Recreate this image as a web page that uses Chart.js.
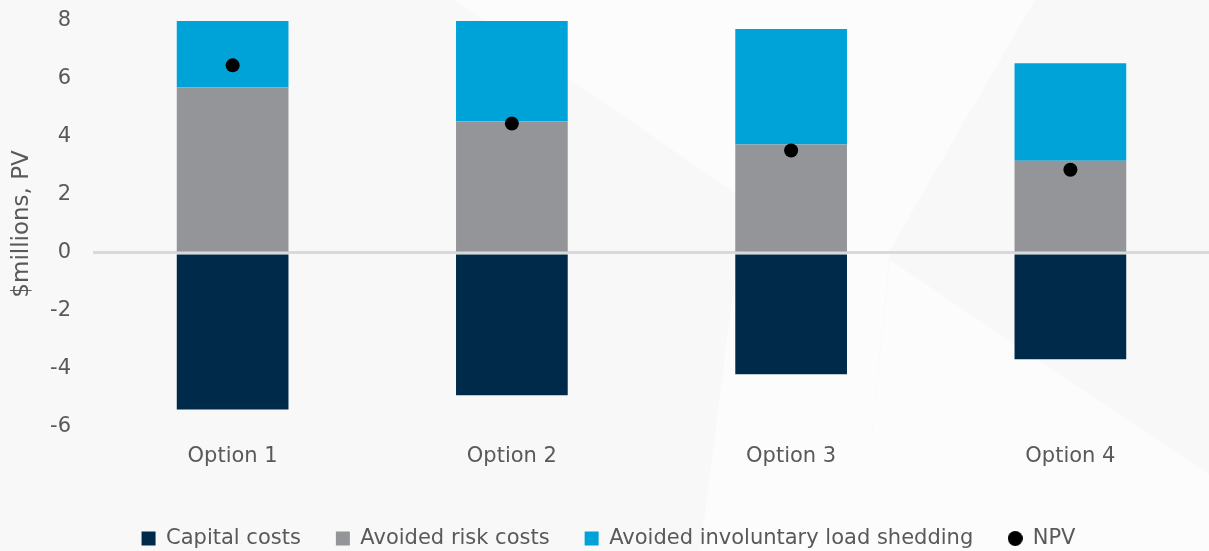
<!DOCTYPE html>
<html>
<head>
<meta charset="utf-8">
<script src="https://cdn.jsdelivr.net/npm/chart.js@4.4.1/dist/chart.umd.min.js"></script>
<style>
  html, body { margin: 0; padding: 0; overflow: hidden; background: #f8f8f9; }
  #wrap { width: 1217px; height: 551px; position: relative; }
</style>
</head>
<body>
<div id="wrap"><canvas id="chart"></canvas></div>
<script>
// $ millions, present value
const options = ["Option 1", "Option 2", "Option 3", "Option 4"];
const capitalCosts = [-5.40, -4.91, -4.19, -3.67];
const avoidedRisk = [5.71, 4.53, 3.74, 3.18];
const avoidedLoadShedding = [6.16, 4.84, 3.98, 3.36];
const npv = [6.47, 4.46, 3.53, 2.87];
const yTicks = [-6, -4, -2, 0, 2, 4, 6, 8];

const textColor = "#595959";
const fontFamily = "'DejaVu Sans', sans-serif";

// small round marker for the NPV legend entry
const npvSwatch = document.createElement("canvas");
npvSwatch.width = 15;
npvSwatch.height = 15;
{
  const c = npvSwatch.getContext("2d");
  c.fillStyle = "#000";
  c.beginPath();
  c.arc(7.5, 7.5, 7.5, 0, Math.PI * 2);
  c.fill();
}

// faint diagonal panels behind the plot
const backdrop = {
  id: "backdrop",
  beforeDraw(chart) {
    const { ctx, width, height } = chart;
    ctx.save();
    ctx.fillStyle = "#f8f8f9";
    ctx.fillRect(0, 0, width, height);
    ctx.fillStyle = "#fcfcfd";
    ctx.beginPath();
    ctx.moveTo(455, 0);
    ctx.lineTo(1035, 0);
    ctx.lineTo(890, 250);
    ctx.lineTo(860, 551);
    ctx.lineTo(700, 551);
    ctx.lineTo(745, 200);
    ctx.closePath();
    ctx.fill();
    ctx.beginPath();
    ctx.moveTo(890, 260);
    ctx.lineTo(1217, 480);
    ctx.lineTo(1217, 551);
    ctx.lineTo(860, 551);
    ctx.closePath();
    ctx.fill();
    ctx.restore();
  }
};

new Chart(document.getElementById("chart"), {
  type: "bar",
  data: {
    labels: options,
    datasets: [
      {
        type: "line",
        label: "NPV",
        data: npv,
        stack: "npv",
        showLine: false,
        pointStyle: "circle",
        pointRadius: 7,
        pointHoverRadius: 7,
        backgroundColor: "#000000",
        borderColor: "#000000",
        borderWidth: 0,
        order: 0
      },
      {
        label: "Capital costs",
        data: capitalCosts,
        backgroundColor: "#002a49",
        stack: "bars",
        order: 1
      },
      {
        label: "Avoided risk costs",
        data: avoidedRisk,
        backgroundColor: "#939598",
        stack: "bars",
        order: 1
      },
      {
        label: "Avoided involuntary load shedding",
        data: avoidedLoadShedding,
        backgroundColor: "#00a3d8",
        stack: "bars",
        order: 1
      }
    ]
  },
  options: {
    responsive: true,
    maintainAspectRatio: false,
    animation: false,
    layout: { padding: { top: 0, right: 0, bottom: -8, left: 0 } },
    datasets: { bar: { barPercentage: 1, categoryPercentage: 0.4 } },
    scales: {
      x: {
        stacked: true,
        grid: { display: false },
        border: { display: false },
        ticks: { color: textColor, font: { family: fontFamily, size: 21 }, padding: 9 },
        afterFit(scale) { scale.height += 15; }
      },
      y: {
        stacked: true,
        min: -6,
        max: 8,
        afterBuildTicks(scale) {
          scale.ticks = yTicks.map(v => ({ value: v }));
        },
        afterFit(scale) {
          scale.width = 93;
          scale.paddingTop = 21;
          scale.paddingBottom = 13;
        },
        grid: {
          drawTicks: false,
          lineWidth: 3,
          color: ctx => (ctx.tick && ctx.tick.value === 0 ? "#d9d9d9" : "rgba(0,0,0,0)")
        },
        border: { display: false },
        ticks: { color: textColor, font: { family: fontFamily, size: 21 }, padding: 22 },
        title: {
          display: true,
          text: "$millions, PV",
          color: textColor,
          font: { family: fontFamily, size: 23 },
          padding: { top: 8, bottom: 0 }
        }
      }
    },
    plugins: {
      legend: {
        position: "bottom",
        labels: {
          boxWidth: 14,
          boxHeight: 14,
          padding: 35,
          color: textColor,
          font: { family: fontFamily, size: 21 },
          generateLabels(chart) {
            const items = Chart.defaults.plugins.legend.labels.generateLabels(chart);
            const order = ["Capital costs", "Avoided risk costs", "Avoided involuntary load shedding", "NPV"];
            items.sort((a, b) => order.indexOf(a.text) - order.indexOf(b.text));
            items.forEach(it => {
              it.lineWidth = 0;
              if (it.text === "NPV") it.pointStyle = npvSwatch;
            });
            return items;
          },
          usePointStyle: true,
          pointStyle: "rect"
        }
      },
      tooltip: { enabled: false }
    }
  },
  plugins: [backdrop]
});
</script>
</body>
</html>
